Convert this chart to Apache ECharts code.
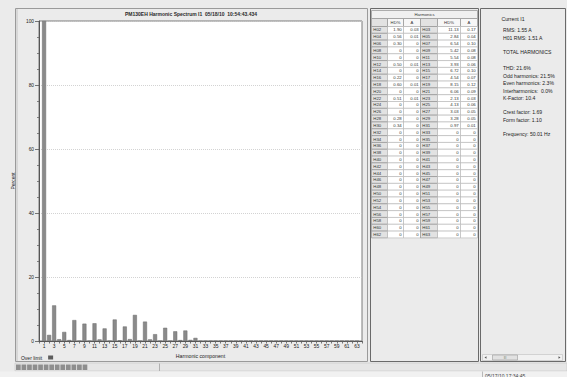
<!DOCTYPE html>
<html>
<head>
<meta charset="utf-8">
<title>PM130EH Harmonic Spectrum I1</title>
<script src="https://cdn.jsdelivr.net/npm/echarts@6/dist/echarts.min.js"></script>
<style>
  html, body { margin: 0; padding: 0; background: #ebebeb; }
  #chart { width: 567px; height: 377px; }
</style>
</head>
<body>
<div id="chart"></div>
<script>
// Harmonic orders shown on the spectrum (H01 .. H63)
const harmonicOrders = [
   1,  2,  3,  4,  5,  6,  7,  8,  9, 10, 11, 12, 13, 14, 15, 16,
  17, 18, 19, 20, 21, 22, 23, 24, 25, 26, 27, 28, 29, 30, 31, 32,
  33, 34, 35, 36, 37, 38, 39, 40, 41, 42, 43, 44, 45, 46, 47, 48,
  49, 50, 51, 52, 53, 54, 55, 56, 57, 58, 59, 60, 61, 62, 63
];
// Harmonic distortion per order, % of the fundamental
const hdPercent = [
  100, 1.90, 11.13, 0.56, 2.84, 0.30, 6.54, 0, 5.42, 0, 5.54, 0.50, 3.93, 0, 6.72, 0.22,
  4.54, 0.60, 8.15, 0, 6.06, 0.51, 2.13, 0, 4.13, 0, 3.03, 0.28, 3.28, 0.34, 0.97, 0,
  0, 0, 0, 0, 0, 0, 0, 0, 0, 0, 0, 0, 0, 0, 0, 0,
  0, 0, 0, 0, 0, 0, 0, 0, 0, 0, 0, 0, 0, 0, 0
];
// Harmonic current per order, A
const hdAmps = [
  1.51, 0.03, 0.17, 0.01, 0.04, 0, 0.10, 0, 0.08, 0, 0.08, 0.01, 0.06, 0, 0.10, 0,
  0.07, 0.01, 0.12, 0, 0.09, 0.01, 0.03, 0, 0.06, 0, 0.05, 0, 0.05, 0, 0.01, 0,
  0, 0, 0, 0, 0, 0, 0, 0, 0, 0, 0, 0, 0, 0, 0, 0,
  0, 0, 0, 0, 0, 0, 0, 0, 0, 0, 0, 0, 0, 0, 0
];
// Summary panel
const summaryTitle = 'Current I1';
const summaryLines = [
  ['RMS: 1.55 A', 30],
  ['H01 RMS: 1.51 A', 38],
  ['TOTAL HARMONICS', 52],
  ['THD: 21.6%', 68],
  ['Odd harmonics: 21.5%', 75.5],
  ['Even harmonics: 2.3%', 83],
  ['Interharmonics:  0.0%', 90.5],
  ['K-Factor: 10.4', 98],
  ['Crest factor: 1.69', 112],
  ['Form factor: 1.10', 119.5],
  ['Frequency: 50.01 Hz', 134]
];
const chartTitle = 'PM130EH Harmonic Spectrum I1  05/18/10  10:54:43.434';
const tableTitle = 'Harmonics';
const tableHeaders = ['', 'HD%', 'A', '', 'HD%', 'A'];
const statusTime = '05/17/10 17:34:45';

const FONT = '"Liberation Sans", Arial, sans-serif';
const fmt = v => (v === 0 ? '0' : v.toFixed(2));
const pad2 = n => (n < 10 ? '0' + n : '' + n);

const g = [];
function rect(x, y, w, h, fill, stroke, lw, z) {
  g.push({ type: 'rect', silent: true, z: z || 0,
    shape: { x: x, y: y, width: w, height: h },
    style: { fill: fill, stroke: stroke || null, lineWidth: lw || 1 } });
}
function line(x1, y1, x2, y2, stroke, lw) {
  g.push({ type: 'line', silent: true,
    shape: { x1: x1, y1: y1, x2: x2, y2: y2 },
    style: { stroke: stroke, lineWidth: lw || 1 } });
}
function text(x, y, t, size, align, weight, color) {
  g.push({ type: 'text', silent: true, x: x, y: y, z: 5,
    style: { text: t, fill: color || '#222',
      font: (weight || 'normal') + ' ' + size + 'px ' + FONT,
      align: align || 'left', verticalAlign: 'middle',
      textAlign: align || 'left', textVerticalAlign: 'middle' } });
}

// Chart panel frame and title
rect(15.5, 8.5, 352, 353, null, '#9a9a9a', 1);
line(17, 9, 17, 361, '#c4c4c4', 1);
text(191, 14, chartTitle, 5, 'center', 'bold', '#2a2a2a');

// Harmonics table panel
rect(370.5, 8.5, 108, 353, null, '#6a6a6a', 1);
const tableX = 371.5;
const colW = [16, 16, 17, 17, 23, 17];
const colX = [tableX];
for (let i = 0; i < colW.length; i++) colX.push(colX[i] + colW[i]);
const tableW = colX[colX.length - 1] - tableX;
rect(tableX, 10.5, tableW, 8, '#f0f0f0', '#9a9a9a', 0.8);
text(tableX + tableW / 2, 14.5, tableTitle, 4.2, 'center', 'normal', '#333');
const headY = 18.5, headH = 8;
for (let c = 0; c < 6; c++) {
  const isLabel = (c === 0 || c === 3);
  rect(colX[c], headY, colW[c], headH, isLabel ? '#e2e2e2' : '#f7f7f7', '#9a9a9a', 0.8);
  if (tableHeaders[c]) text(colX[c] + colW[c] / 2, headY + headH / 2, tableHeaders[c], 4.2, 'center', 'normal', '#333');
}
const rowY0 = 26.5, rowH = 6.82, nRows = 31;
for (let r = 0; r < nRows; r++) {
  const y = rowY0 + r * rowH;
  const even = 2 + 2 * r, odd = 3 + 2 * r;
  const cells = [
    'H' + pad2(even), fmt(hdPercent[even - 1]), fmt(hdAmps[even - 1]),
    'H' + pad2(odd), fmt(hdPercent[odd - 1]), fmt(hdAmps[odd - 1])
  ];
  for (let c = 0; c < 6; c++) {
    const isLabel = (c === 0 || c === 3);
    rect(colX[c], y, colW[c], rowH, isLabel ? '#e2e2e2' : '#ffffff', isLabel ? '#8a8a8a' : '#b4b4b4', 0.6);
    if (isLabel) text(colX[c] + 1.8, y + rowH / 2, cells[c], 4.3, 'left', 'normal', '#333');
    else text(colX[c + 1] - 1.8, y + rowH / 2, cells[c], 4.3, 'right', 'normal', '#333');
  }
}

// Summary panel
rect(480.5, 8.5, 85, 353, null, '#6a6a6a', 1);
text(513, 19, summaryTitle, 5.2, 'center', 'normal', '#222');
summaryLines.forEach(function (l) { text(503, l[1], l[0], 5.1, 'left', 'normal', '#222'); });
// horizontal scroll bar
rect(482.5, 354.5, 80, 6, '#f1f1f1', '#c0c0c0', 0.6);
rect(492.5, 355, 25, 5, '#e2e2e2', '#9a9a9a', 0.6);
text(505, 357.6, 'III', 3, 'center', 'normal', '#666');
g.push({ type: 'polygon', silent: true, shape: { points: [[484.5, 357.5], [486.5, 356.2], [486.5, 358.8]] }, style: { fill: '#555' } });
g.push({ type: 'polygon', silent: true, shape: { points: [[560.5, 357.5], [558.5, 356.2], [558.5, 358.8]] }, style: { fill: '#555' } });

// Status strips along the bottom
rect(15, 363, 552, 8, '#e6e6e6', '#c8c8c8', 0.6);
line(159.5, 363.5, 159.5, 371, '#b0b0b0', 1);
for (let i = 0; i < 13; i++) rect(16 + i * 5.55, 364.5, 4.7, 5.5, '#8e8e8e', null);
rect(0, 371.5, 567, 6, '#f1f1f1', null);
line(482.5, 371.5, 482.5, 377, '#b8b8b8', 1);
text(485, 375.5, statusTime, 5, 'left', 'normal', '#444');

const option = {
  animation: false,
  backgroundColor: '#ebebeb',
  textStyle: { fontFamily: FONT },
  grid: {
    left: 39, top: 21, width: 323, height: 320,
    show: true, backgroundColor: '#ffffff', borderColor: '#7a7a7a', borderWidth: 1
  },
  legend: {
    data: ['Over limit'], left: 21, top: 355, padding: 0,
    align: 'right', icon: 'rect', itemWidth: 5, itemHeight: 4, itemGap: 0,
    textStyle: { fontSize: 5, color: '#222', padding: [0, 1, 0, 0] }
  },
  xAxis: {
    type: 'value', min: 0, max: 64, interval: 1,
    name: 'Harmonic component', nameLocation: 'middle', nameGap: 11.5,
    nameTextStyle: { fontSize: 5.2, color: '#222' },
    axisLine: { onZero: false, lineStyle: { color: '#555', width: 1 } },
    axisTick: { show: true, length: 2.5, lineStyle: { color: '#555', width: 0.8 } },
    axisLabel: { fontSize: 4.9, color: '#222', margin: 3,
      formatter: function (v) { return v % 2 === 1 ? String(v) : ''; } },
    splitLine: { show: false }
  },
  yAxis: {
    type: 'value', min: 0, max: 100, interval: 20,
    name: 'Percent', nameLocation: 'middle', nameGap: 17, nameRotate: 90,
    nameTextStyle: { fontSize: 5, color: '#222' },
    axisLine: { show: true, lineStyle: { color: '#555', width: 1 } },
    axisTick: { show: true, length: 4, lineStyle: { color: '#555', width: 0.8 } },
    minorTick: { show: true, splitNumber: 4, length: 2, lineStyle: { color: '#666', width: 0.8 } },
    axisLabel: { fontSize: 4.8, color: '#222', margin: 5 },
    splitLine: { show: true, lineStyle: { color: '#c8c8c8', type: [1, 1], width: 0.8 } }
  },
  graphic: { elements: g },
  series: [
    {
      name: 'Harmonic', type: 'bar', barWidth: 4,
      data: harmonicOrders.map(function (h, i) { return [h, hdPercent[i]]; }),
      itemStyle: { color: '#8a8a8a', borderColor: '#6a6a6a', borderWidth: 0.5 }
    },
    { name: 'Over limit', type: 'scatter', data: [], itemStyle: { color: '#3a3a3a' } }
  ]
};

const chart = echarts.init(document.getElementById('chart'), null, { renderer: 'svg' });
chart.setOption(option);
</script>
</body>
</html>
